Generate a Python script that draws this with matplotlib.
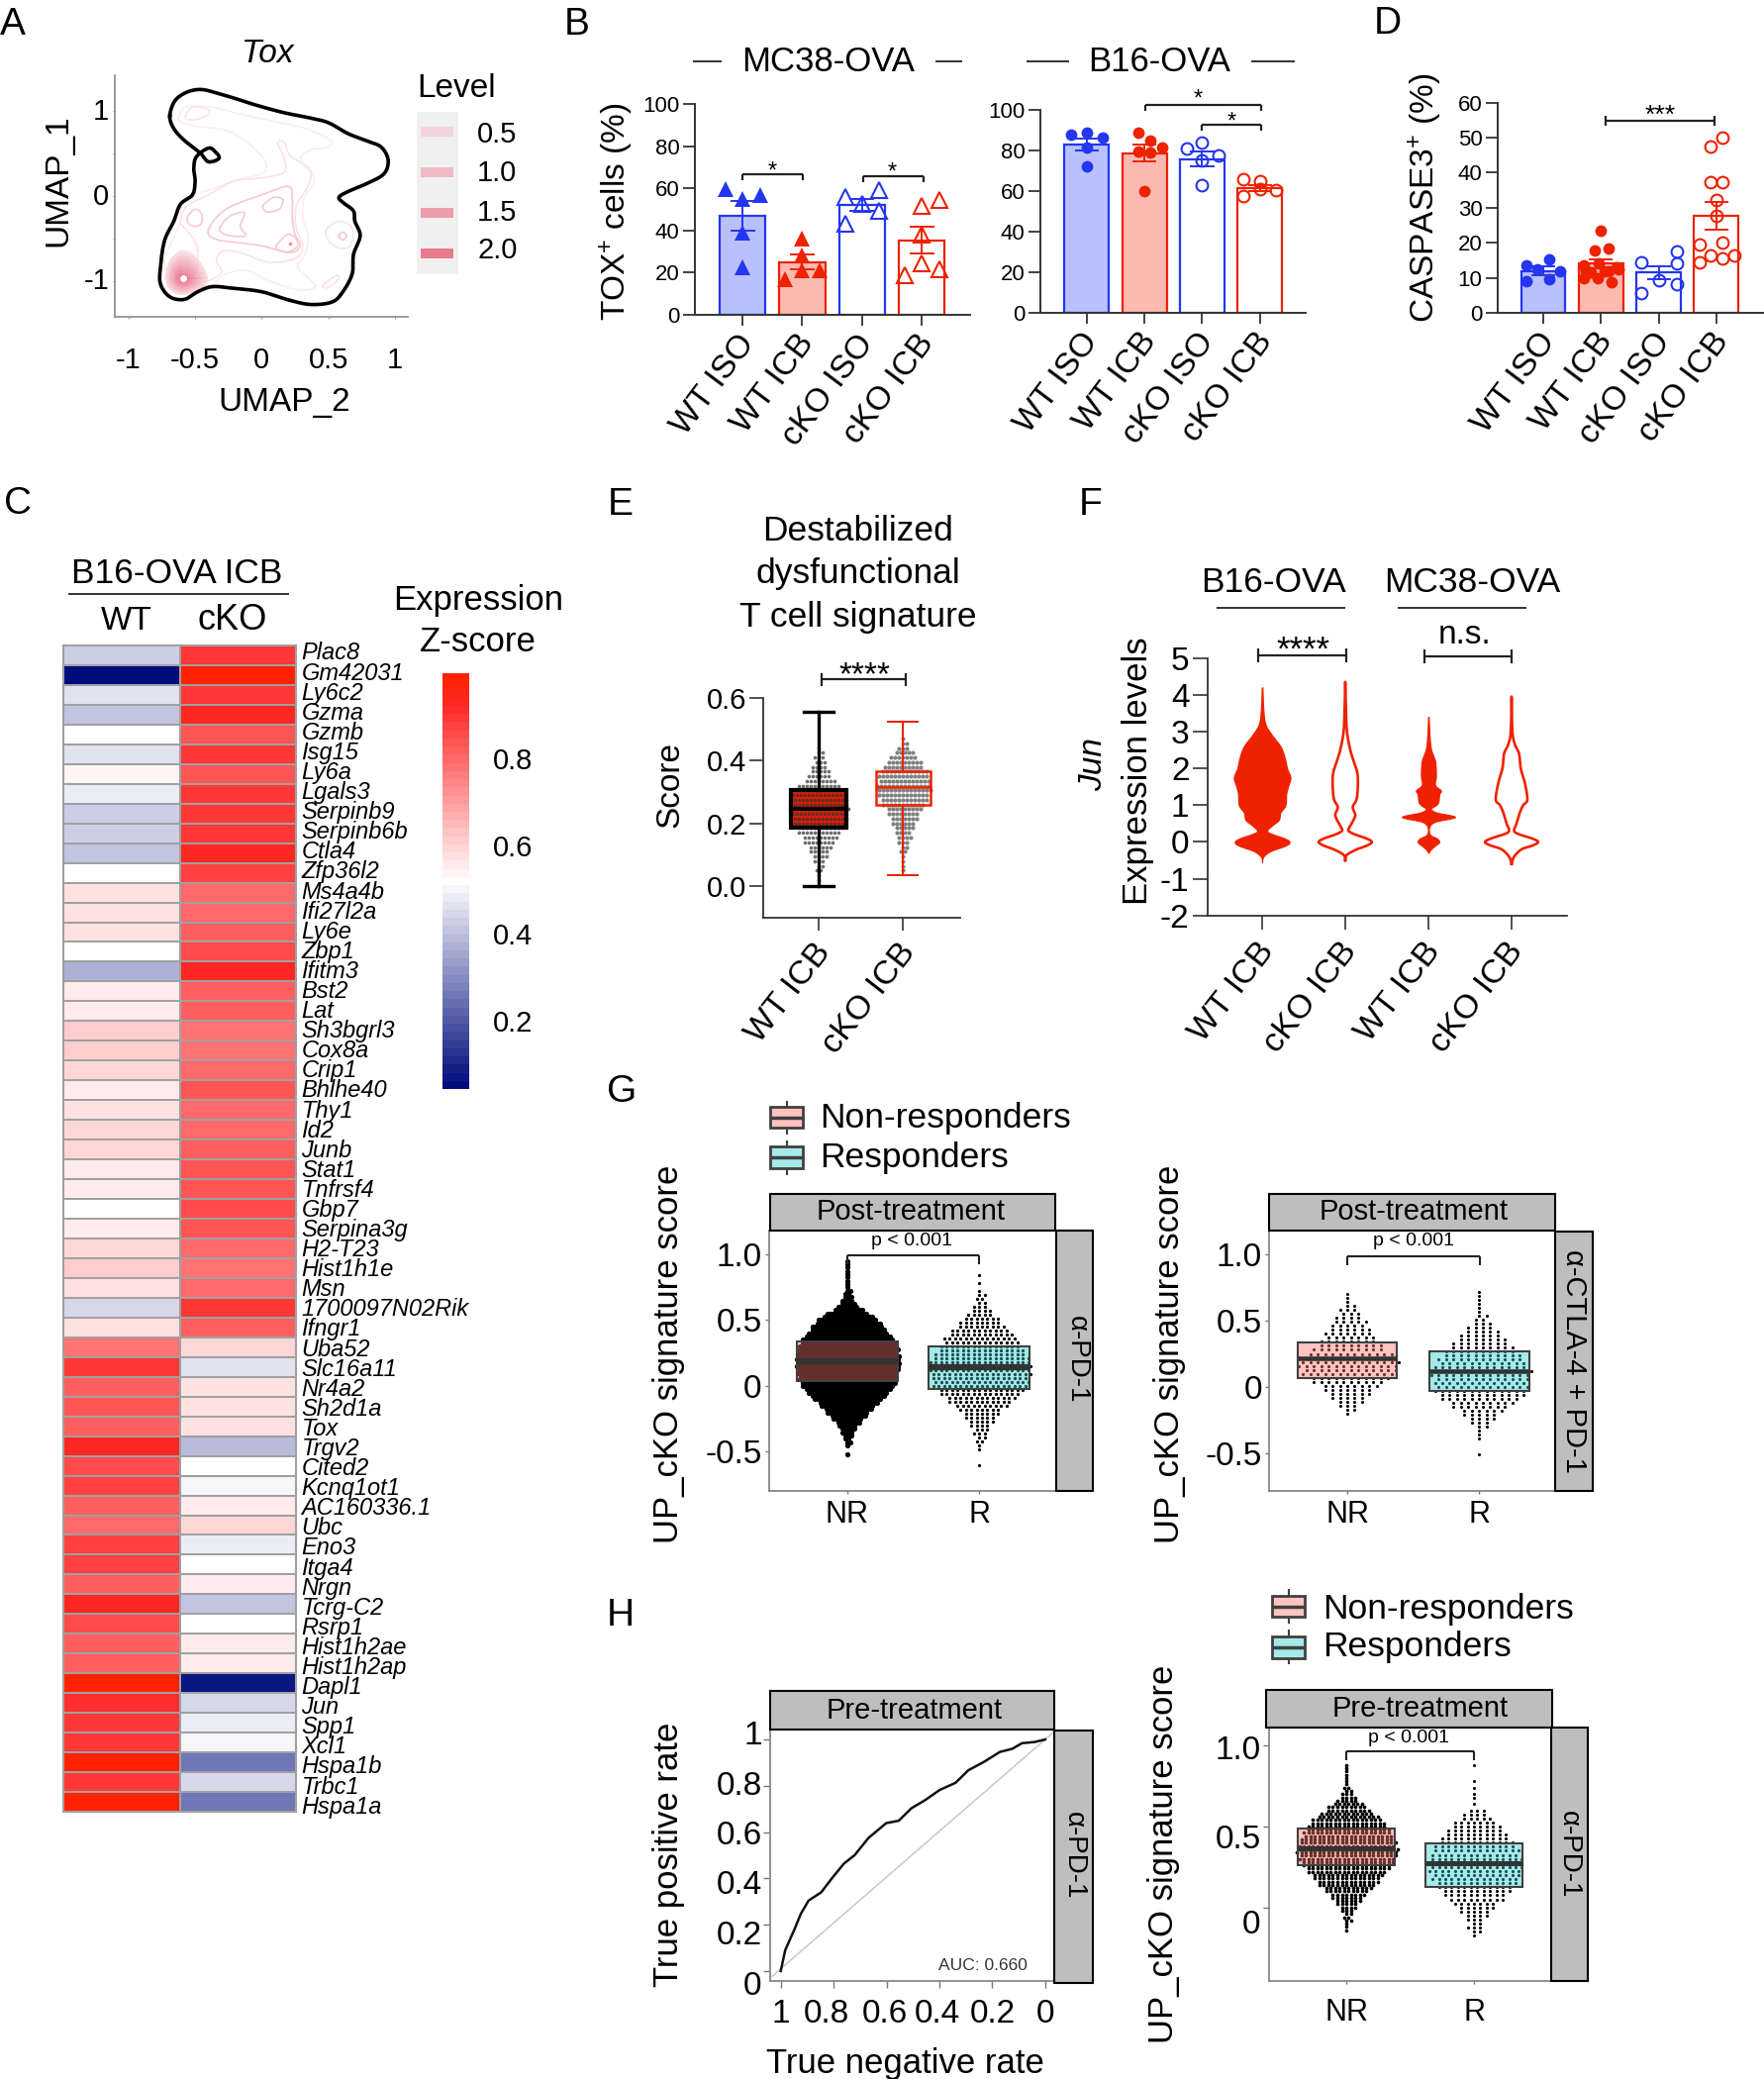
import numpy as np
import matplotlib
matplotlib.use('Agg')
import matplotlib.pyplot as plt
from matplotlib.colors import LinearSegmentedColormap, Normalize
from matplotlib.cm import ScalarMappable
from matplotlib.patches import Rectangle
from matplotlib.lines import Line2D
from matplotlib.transforms import Affine2D, ScaledTranslation

plt.rcParams['font.family'] = ['Liberation Sans', 'DejaVu Sans']
plt.rcParams['mathtext.fontset'] = 'custom'
plt.rcParams['mathtext.rm'] = 'Liberation Sans'
plt.rcParams['mathtext.default'] = 'regular'

# ---------- DATA ----------
# A: density contours of Tox on UMAP
umap_ticks = [-1, -0.5, 0, 0.5, 1]
tox_outer = [(-.69,.94),(-.65,1.12),(-.56,1.22),(-.45,1.25),(-.32,1.20),(-.21,1.15),(-.05,1.07),(.16,.98),(.35,.92),(.50,.86),(.65,.73),(.80,.64),(.90,.57),(.95,.42),(.92,.26),(.80,.15),(.65,.05),(.58,-.02),(.62,-.09),(.69,-.18),(.70,-.30),(.74,-.47),(.69,-.69),(.68,-.92),(.61,-1.13),(.53,-1.25),(.37,-1.28),(.21,-1.23),(0,-1.13),(-.21,-1.09),(-.37,-1.07),(-.48,-1.13),(-.58,-1.22),(-.69,-1.19),(-.76,-1.04),(-.76,-.84),(-.73,-.53),(-.66,-.30),(-.61,-.10),(-.52,.01),(-.50,.17),(-.51,.32),(-.49,.46),(-.40,.56),(-.35,.52),(-.32,.44),(-.40,.40),(-.46,.50),(-.58,.65),(-.66,.79)]
tox_faint = [(-.62,.94),(-.56,1.05),(-.37,1.04),(-.16,.96),(.11,.87),(.35,.78),(.52,.65),(.49,.57),(.37,.54),(.29,.44),(.37,.30),(.39,.15),(.32,-.03),(.31,-.26),(.35,-.49),(.32,-.71),(.27,-.84),(.37,-1.0),(.40,-1.08),(.27,-1.11),(.05,-1.0),(-.11,-.88),(-.27,-.92),(-.37,-1.04),(-.50,-1.04),(-.69,-.96),(-.73,-.76),(-.66,-.49),(-.61,-.30),(-.60,-.14),(-.49,.01),(-.35,.09),(-.19,.19),(0,.26),(.03,.40),(-.11,.63),(-.27,.77),(-.45,.81),(-.61,.87)]
tox_mid = [(.12,.62),(.17,.63),(.21,.48),(.30,.38),(.37,.26),(.34,.09),(.26,-.12),(.26,-.38),(.31,-.59),(.25,-.74),(.05,-.78),(-.16,-.67),(-.29,-.65),(-.34,-.76),(-.30,-.90),(-.40,-1.0),(-.53,-1.04),(-.48,-.80),(-.49,-.57),(-.56,-.41),(-.61,-.30),(-.56,-.12),(-.40,.01),(-.21,.17),(0,.21),(.17,.28),(.16,.48)]
tox_light = [[(-.57,.94),(-.52,1.04),(-.41,1.02),(-.40,.96),(-.48,.90),(-.56,.90)],
             [(.48,-.43),(.56,-.31),(.66,-.34),(.69,-.47),(.65,-.61),(.54,-.59)],
             [(.46,-1.06),(.56,-.94),(.58,-.98),(.50,-1.08)]]
tox_strong = [[(-.40,-.40),(-.27,-.16),(0,.01),(.20,.11),(.23,-.03),(.23,-.26),(.25,-.45),(.29,-.59),(.21,-.67),(0,-.59),(-.19,-.55),(-.35,-.51)],
              [(.01,-.12),(.09,-.02),(.16,-.05),(.13,-.16),(.04,-.19)],
              [(-.31,-.36),(-.24,-.24),(-.13,-.20),(-.16,-.36),(-.12,-.47),(-.24,-.47),(-.31,-.42)],
              [(.11,-.59),(.19,-.46),(.25,-.49),(.27,-.59),(.20,-.66),(.13,-.64)],
              [(-.56,-.26),(-.50,-.16),(-.45,-.22),(-.46,-.34),(-.53,-.35)],
              [(.58,-.47),(.61,-.43),(.64,-.47),(.61,-.52)]]
tox_hot_center = (-.59, -.97)
tox_hot_shape = [(.18,.0),(.11,.22),(0,.32),(-.10,.20),(-.13,0),(-.09,-.14),(0,-.19),(.12,-.13)]
tox_hot_scales = [1,.93,.86,.79,.72,.65,.58,.51,.44,.37,.30,.23,.16,.10]
level_values = ['0.5', '1.0', '1.5', '2.0']
level_colors = ['#f5d3da', '#f0bac4', '#eb9dac', '#e87b8c']

# B / D
groups = ['WT ISO', 'WT ICB', 'cKO ISO', 'cKO ICB']
b1_vals = [47, 25, 52, 35]
b1_hi = [54, 28.5, 55, 42]
b1_lo = [40, 21.5, 49.5, 29]
b1_off = [[-.28,0,.29,0,0],[0,0,-.29,0,.29],[-.28,.28,0,.28,-.28],[.29,0,0,0,.29,-.28]]
b1_pts = [[59.6,55,57,39,22.5],[36,28,17,21,21],[56,59,52.5,49.5,43],[54.6,51.5,38,24.5,21.5,18.6]]
b2_vals = [83, 78.5, 75.6, 61.5]
b2_hi = [86, 83, 79.7, 62.8]
b2_lo = [79.8, 74.8, 72, 60]
b2_off = [[-.27,0,.28,0,0],[-.10,.10,.30,-.10,.10,0],[0,-.26,.28,0,0],[-.28,0,-.28,.28,0]]
b2_pts = [[87.8,88.6,86.3,81.3,72],[89,85,81.5,79.7,79,60],[84,81,77.7,75.3,62.8],[65.9,65,57.4,60.3,61]]
d_vals = [12, 14, 11.5, 27.7]
d_hi = [13.2, 15.3, 13.4, 31.6]
d_lo = [10.8, 12.7, 9.6, 23.8]
d_off = [[-.30,.10,-.10,.30,-.30,.10],[0,.13,-.11,-.3,-.04,.3,.13,-.3,-.05,.19,-.18,.07,-.27,.27],[.31,-.30,.31,0,.31,-.30],[.11,-.10,-.10,.11,0,0,-.29,.11,-.10,.31,.11,-.29]]
d_pts = [[13.7,15.3,12.3,11.9,9,9.5],[23.4,18.5,17.7,13.7,14.2,12.5,12,10,10,8.8,11.6,12,12,13],[17.5,14.4,14.1,9.2,8.1,5.6],[50,47.5,37.3,37.3,32.3,27.6,19.6,20,16.3,16.3,15.5,14.4]]

# C
genes = ['Plac8','Gm42031','Ly6c2','Gzma','Gzmb','Isg15','Ly6a','Lgals3','Serpinb9','Serpinb6b','Ctla4','Zfp36l2','Ms4a4b','Ifi27l2a','Ly6e','Zbp1','Ifitm3','Bst2','Lat','Sh3bgrl3','Cox8a','Crip1','Bhlhe40','Thy1','Id2','Junb','Stat1','Tnfrsf4','Gbp7','Serpina3g','H2-T23','Hist1h1e','Msn','1700097N02Rik','Ifngr1','Uba52','Slc16a11','Nr4a2','Sh2d1a','Tox','Trgv2','Cited2','Kcnq1ot1','AC160336.1','Ubc','Eno3','Itga4','Nrgn','Tcrg-C2','Rsrp1','Hist1h2ae','Hist1h2ap','Dapl1','Jun','Spp1','Xcl1','Hspa1b','Trbc1','Hspa1a']
heat_wt = [.425,.05,.46,.415,.52,.46,.54,.48,.435,.435,.415,.52,.58,.58,.58,.52,.375,.55,.55,.615,.61,.60,.55,.58,.60,.60,.55,.55,.52,.56,.60,.615,.58,.44,.575,.78,.89,.82,.84,.81,.925,.85,.865,.82,.80,.88,.875,.815,.93,.86,.82,.82,.99,.905,.90,.89,.985,.90,.98]
heat_cko = [.90,.99,.90,.92,.84,.90,.84,.885,.90,.90,.93,.87,.795,.795,.82,.85,.93,.81,.82,.78,.78,.79,.83,.80,.79,.81,.84,.84,.86,.84,.795,.78,.79,.89,.81,.60,.46,.58,.575,.58,.39,.52,.505,.55,.60,.48,.52,.55,.415,.52,.55,.55,.07,.44,.48,.505,.25,.44,.26]

# E: swarm rows (start, step, dots per row) and box statistics
e_wt_start, e_wt_step = .02, .015
e_wt_counts = [1,1,2,2,3,4,5,6,8,9,11,12,13,14,14,15,15,14,14,13,11,8,6,5,4,3,3,2,1]
e_ko_start, e_ko_step = .05, .015
e_ko_counts = [1,1,1,1,2,2,3,4,4,5,6,7,8,9,11,12,13,14,14,13,13,12,10,9,7,5,3,2,1]
e_box = [(0, .185, .245, .305, .555), (.035, .26, .315, .365, .525)]
e_labels = ['WT ICB', 'cKO ICB']

# F: violin outlines (level, half width)
f_labels = ['WT ICB', 'cKO ICB', 'WT ICB', 'cKO ICB']
f_v1 = [(-.55,0),(-.4,.015),(-.25,.1),(-.1,.28),(0,.33),(.1,.27),(.2,.14),(.3,.06),(.45,.12),(.6,.2),(.8,.22),(1.0,.28),(1.3,.29),(1.5,.31),(1.75,.34),(2.0,.3),(2.3,.27),(2.6,.22),(2.9,.12),(3.2,.04),(3.6,.015),(4.2,.004)]
f_v2 = [(-.5,0),(-.35,.02),(-.2,.14),(-.1,.26),(0,.32),(.1,.25),(.2,.12),(.3,.04),(.4,.05),(.6,.1),(.75,.12),(.95,.09),(1.2,.14),(1.8,.15),(2.2,.1),(2.5,.06),(3,.02),(3.6,.008),(4.35,0)]
f_v3 = [(-.3,0),(-.2,.03),(-.1,.08),(0,.13),(.1,.1),(.2,.02),(.4,.01),(.55,.08),(.68,.32),(.8,.1),(.9,.03),(1.0,.09),(1.1,.12),(1.3,.13),(1.4,.15),(1.55,.08),(1.8,.09),(2.2,.08),(2.6,.025),(3.4,.003)]
f_v4 = [(-.6,0),(-.4,.03),(-.2,.12),(-.1,.25),(0,.32),(.1,.24),(.2,.1),(.3,.03),(.5,.06),(.8,.1),(1.0,.14),(1.15,.19),(1.6,.16),(2,.11),(2.4,.09),(2.65,.04),(3,.01),(3.95,0)]

# G / H swarm rows and boxes
g1_nr = dict(start=-.45, step=.025, out=[-.52], counts=[1,2,2,3,4,5,6,8,10,12,14,16,18,20,23,25,27,29,31,32,33,33,34,34,35,35,35,35,34,34,33,32,31,29,27,25,24,22,20,17,14,10,7,5,4,3,2,2,1,1,1,1,1,1,1,1,1], box=(.04,.19,.34))
g1_r = dict(start=-.48, step=.03, out=[.78,.84,-.6], counts=[1,1,2,2,3,3,4,5,6,7,8,10,12,13,15,16,18,18,18,19,19,19,19,18,17,16,15,14,14,12,11,9,8,7,5,4,3,2,2,2,1], box=(-.02,.14,.30))
g2_nr = dict(start=-.2, step=.03, out=[], counts=[1,2,3,4,5,6,7,8,10,11,13,13,14,14,13,12,10,9,8,7,7,6,5,5,4,3,3,2,1,1,1], box=(.067,.22,.336))
g2_r = dict(start=-.39, step=.03, out=[-.51], counts=[1,1,1,2,3,4,5,6,8,9,11,12,13,13,13,13,14,14,13,12,12,11,10,9,8,7,6,5,4,3,2,2,1,1,1,1,1,1], box=(-.03,.12,.266))
h_nr = dict(start=-.14, step=.02, out=[], counts=[1,1,1,2,2,2,3,4,5,6,7,8,10,11,13,14,15,16,18,19,20,21,22,22,23,23,22,22,21,20,20,19,18,17,16,14,12,10,9,7,5,4,3,2,2,1,1,1,1,1,1,1], box=(.26,.363,.486))
h_r = dict(start=-.175, step=.025, out=[.64,.68,.70,.74,.78,.88], counts=[1,2,3,2,3,4,5,6,7,9,10,11,12,13,14,14,15,15,15,15,14,14,13,12,11,10,9,8,7,5,4,3], box=(.129,.276,.394))
resp_labels = ['NR', 'R']
roc_tnr = [1.0,.983,.947,.924,.895,.847,.804,.761,.721,.668,.601,.554,.506,.453,.399,.339,.291,.232,.172,.124,.088,.041,0]
roc_tpr = [0,.09,.183,.247,.304,.34,.404,.464,.5,.575,.639,.649,.703,.739,.782,.813,.867,.903,.946,.96,.984,.989,1]
roc_ticks = [1, .8, .6, .4, .2, 0]
roc_ticklabels = ['1', '0.8', '0.6', '0.4', '0.2', '0']

# ---------- HELPERS ----------
W, H = 1782, 2100
fig = plt.figure(figsize=(W/100, H/100), dpi=100, facecolor='white')
PX = Affine2D().scale(1, -1).translate(0, H)

def axpx(l, t, r, b):
    return fig.add_axes([l/W, 1-b/H, (r-l)/W, (b-t)/H])

def txt(x, y, s, size=24, ha='center', va='center', **kw):
    return fig.text(x, y, s, transform=PX, fontsize=size, ha=ha, va=va, **kw)

def pline(xs, ys, color='#222222', lw=1.5, zorder=2):
    fig.add_artist(Line2D(xs, ys, transform=PX, color=color, lw=lw, solid_capstyle='butt', zorder=zorder))

def prect(x0, y0, x1, y1, fc, ec='black', lw=1.5, zorder=1):
    fig.add_artist(Rectangle((x0, y0), x1-x0, y1-y0, transform=PX, fc=fc, ec=ec, lw=lw, zorder=zorder))

def bracket(x0, x1, y, up=5, down=6, lw=1.6):
    pline([x0, x1], [y, y], lw=lw)
    for x in (x0, x1):
        pline([x, x], [y-up, y+down], lw=lw)

def stars(cx, cy, s, size):
    txt(cx, cy + 0.58*size*100/72, s, size=size, va='baseline')

def smooth(pts, closed=False, n=14):
    p = np.array(pts, float)
    if closed:
        p = np.vstack([p[-1], p, p[0], p[1]])
    else:
        p = np.vstack([p[0], p, p[-1]])
    out = []
    t = np.linspace(0, 1, n, endpoint=False)[:, None]
    for i in range(1, len(p)-2):
        a, b, c, d = p[i-1], p[i], p[i+1], p[i+2]
        out.append(.5*((2*b)+(-a+c)*t+(2*a-5*b+4*c-d)*t**2+(-a+3*b-3*c+d)*t**3))
    out = np.vstack(out)
    if closed:
        out = np.vstack([out, out[0]])
    else:
        out = np.vstack([out, p[-2]])
    return out

def rot_labels(ax, pos, labels, size, rot=53, pad=9, dx=6, dy=0):
    ax.set_xticks(pos)
    ax.set_xticklabels(labels, rotation=rot, ha='right', va='center', rotation_mode='anchor', fontsize=size)
    ax.tick_params(axis='x', pad=pad)
    off = ScaledTranslation(dx/100, dy/100, fig.dpi_scale_trans)
    for lab in ax.get_xticklabels():
        lab.set_transform(lab.get_transform() + off)

def shift_yticklabels(ax, shifts):
    for lab, s in zip(ax.get_yticklabels(), shifts):
        lab.set_transform(lab.get_transform() + ScaledTranslation(0, -s/100, fig.dpi_scale_trans))

BLUE, RED = '#2436f0', '#ee2200'
LBLUE, LRED = '#b9c0fb', '#fbb9b0'

def bars(ax, vals, hi, lo, off, pts, marker, ms, xlim, ylim, yticks, tsize=16):
    edge = [BLUE, RED, BLUE, RED]
    face = [LBLUE, LRED, 'white', 'white']
    x = np.arange(4)
    ax.bar(x, vals, width=.77, color=face, edgecolor=edge, linewidth=1.6, zorder=1)
    for i in range(4):
        filled = i < 2
        ax.plot(np.array(off[i])+i, pts[i], ls='none', marker=marker, ms=ms,
                mfc=edge[i] if filled else 'none', mec=edge[i], mew=1.5 if not filled else 0, zorder=2, clip_on=False)
        ax.plot([i, i], [lo[i], hi[i]], color=edge[i], lw=1.4, zorder=3)
        for v in (lo[i], hi[i]):
            ax.plot([i-.19, i+.19], [v, v], color=edge[i], lw=1.4, zorder=3)
    ax.set_xlim(*xlim)
    ax.set_ylim(*ylim)
    ax.set_yticks(yticks)
    ax.tick_params(axis='y', labelsize=tsize, length=9, width=1.3, pad=2, color='#333333')
    ax.tick_params(axis='x', length=8, width=1.3, color='#333333')
    for s in ('top', 'right'):
        ax.spines[s].set_visible(False)
    for s in ('left', 'bottom'):
        ax.spines[s].set_linewidth(1.4)
        ax.spines[s].set_color('#333333')

def swarm(ax, x0, d, dx, size, color='black', alpha=1, zorder=2):
    xs, ys = [], []
    for i, c in enumerate(d['counts']):
        y = d['start'] + d['step']*i
        shift = dx/2 * (i % 2) if c > 1 else 0
        xs.extend(x0 + (np.arange(c)-(c-1)/2)*dx + shift)
        ys.extend([y]*c)
    for v in d['out']:
        xs.append(x0)
        ys.append(v)
    ax.scatter(xs, ys, s=size, c=color, alpha=alpha, linewidths=0, zorder=zorder)

def resp_panel(l, t, r, b, centers_xlim, ylim, yticks, ylabels, d1, d2, dxs, sizes, w, medlw, stripl, stript, stripr, strip_txt,
               strip_cx, strip_cy, side_l, side_r, side_t, side_b, side_txt, side_cx, side_cy, side_size, shifts=None, ticklen=3, xpad=6):
    ax = axpx(l, t, r, b)
    ax.set_xlim(*centers_xlim)
    ax.set_ylim(*ylim)
    for i, (d, base, over) in enumerate([(d1, '#fff7f6', '#ff786e'), (d2, '#ebffff', '#3cc8c8')]):
        q1, med, q3 = d['box']
        ax.add_patch(Rectangle((i-w/2, q1), w, q3-q1, fc=base, ec='none', zorder=1))
        swarm(ax, i, d, dxs[i], sizes[i], zorder=2)
        ax.add_patch(Rectangle((i-w/2, q1), w, q3-q1, fc=over, ec='none', alpha=.4, zorder=3))
        ax.add_patch(Rectangle((i-w/2, q1), w, q3-q1, fc='none', ec='#404040', lw=1.5, zorder=4))
        ax.plot([i-w/2, i+w/2], [med, med], color='#333333', lw=medlw, zorder=5, solid_capstyle='butt')
    ax.set_xticks([0, 1])
    ax.set_xticklabels(resp_labels, fontsize=22)
    ax.set_yticks(yticks)
    ax.set_yticklabels(ylabels, fontsize=24)
    ax.tick_params(axis='x', length=2.5, width=1, pad=xpad, color='#777777')
    ax.tick_params(axis='y', length=ticklen, width=1, pad=2, color='#777777')
    for s in ax.spines.values():
        s.set_color('#888888')
        s.set_linewidth(1.3)
    if shifts:
        shift_yticklabels(ax, shifts)
    prect(stripl, stript, stripr, t, '#bebebe')
    txt(strip_cx, strip_cy, strip_txt, size=21)
    prect(side_l, side_t, side_r, side_b, '#bebebe')
    txt(side_cx, side_cy, side_txt, size=side_size, rotation=-90)
    return ax

# ---------- PANEL LETTERS ----------
for s, x, y in [('A', 0, 35), ('B', 570, 35), ('D', 1388, 34), ('C', 4, 519), ('E', 614, 520),
                ('F', 1090, 520), ('G', 613, 1113), ('H', 613, 1642)]:
    txt(x, y, s, size=28, ha='left', va='baseline')

# ---------- A ----------
ax = axpx(116.4, 76, 412, 320)
ax.set_xlim(-1.10, 1.098)
ax.set_ylim(-1.425, 1.418)
for s in ('top', 'right'):
    ax.spines[s].set_visible(False)
for s in ('left', 'bottom'):
    ax.spines[s].set_color('#8a8a8a')
    ax.spines[s].set_linewidth(1.2)
ax.set_xticks(umap_ticks)
ax.set_xticklabels(['-1', '-0.5', '0', '0.5', '1'], fontsize=21)
ax.set_yticks(umap_ticks)
ax.set_yticklabels(['-1', '', '0', '', '1'], fontsize=21)
ax.tick_params(axis='x', length=1.5, width=.8, pad=20, color='#999999')
ax.tick_params(axis='y', length=1.5, width=.8, pad=3, color='#999999')
shift_yticklabels(ax, [-3, 0, -2, 0, -2])
c = smooth(tox_faint, closed=True)
ax.plot(c[:, 0], c[:, 1], color='#fcecef', lw=1.1)
c = smooth(tox_mid, closed=True)
ax.plot(c[:, 0], c[:, 1], color='#fbe0e5', lw=1.1)
for p in tox_light:
    c = smooth(p, closed=True)
    ax.plot(c[:, 0], c[:, 1], color='#fbe2e6', lw=1.1)
for p in tox_strong:
    c = smooth(p, closed=True)
    ax.plot(c[:, 0], c[:, 1], color='#f6ccd4', lw=1.3)
hot_cmap = LinearSegmentedColormap.from_list('h', ['#f9dbe0', '#f0a2b2', '#e96a84'])
shape = smooth(tox_hot_shape, closed=True)
for i, f in enumerate(tox_hot_scales):
    col = hot_cmap(i/(len(tox_hot_scales)-1))
    ax.plot(tox_hot_center[0]+f*shape[:, 0], tox_hot_center[1]+f*shape[:, 1], color=col, lw=1.1)
ax.plot([tox_hot_center[0]], [tox_hot_center[1]], marker='o', ms=4, color='white', zorder=4)
ax.plot([.21], [-.56], marker='o', ms=1.6, color='#ee8fa0', zorder=4)
c = smooth(tox_outer, closed=True)
ax.plot(c[:, 0], c[:, 1], color='black', lw=2.6, zorder=5)
ax.set_xlabel('UMAP_2', fontsize=24, va='center')
ax.xaxis.set_label_coords(287, 407, transform=PX)
ax.set_ylabel('UMAP_1', fontsize=24, va='center')
ax.yaxis.set_label_coords(59, 182, transform=PX)
txt(270, 63, 'Tox', size=24, style='italic', va='baseline')
txt(421, 98, 'Level', size=24, ha='left', va='baseline')
prect(421, 112.7, 462.5, 276.7, '#f0f0f0', ec='none', lw=0)
for lv, col, yc, yt in zip(level_values, level_colors, [133, 174, 215, 256], [136, 175, 215, 253]):
    prect(425, yc-5, 458, yc+5, col, ec='none', lw=0, zorder=1.5)
    txt(482, yt, lv, size=21, ha='left')

# ---------- B ----------
ax = axpx(702, 105, 980, 318)
bars(ax, b1_vals, b1_hi, b1_lo, b1_off, b1_pts, '^', 11, (-.796, 3.81), (0, 100), [0, 20, 40, 60, 80, 100])
rot_labels(ax, range(4), groups, 24)
ax.set_ylabel('TOX$^{+}$ cells (%)', fontsize=24, va='center')
ax.yaxis.set_label_coords(623, 214, transform=PX)
bracket(750, 811, 176, up=0, down=6)
stars(780, 166, '*', 17)
bracket(872, 933, 178, up=0, down=6)
stars(901, 167, '*', 17)

ax = axpx(1051, 111, 1319, 316)
bars(ax, b2_vals, b2_hi, b2_lo, b2_off, b2_pts, 'o', 8.5, (-.798, 3.79), (0, 100), [0, 20, 40, 60, 80, 100])
rot_labels(ax, range(4), groups, 24)
bracket(1157, 1274, 105.5, up=0, down=6)
stars(1210, 93, '*', 17)
bracket(1214, 1274, 125.5, up=0, down=6)
stars(1244, 116, '*', 17)

for s, cx, cy, segs in [('MC38-OVA', 837, 62, [(700, 729), (945, 972)]), ('B16-OVA', 1171, 62, [(1037, 1080), (1264, 1308)])]:
    txt(cx, cy, s, size=25)
    for a, b in segs:
        pline([a, b], [62, 62], lw=1.3)

# ---------- D ----------
ax = axpx(1512.7, 103.7, 1781.7, 316)
bars(ax, d_vals, d_hi, d_lo, d_off, d_pts, 'o', 8.5, (-.794, 3.82), (0, 60), [0, 10, 20, 30, 40, 50, 60])
rot_labels(ax, range(4), groups, 24)
ax.set_ylabel('CASPASE3$^{+}$ (%)', fontsize=24, va='center')
ax.yaxis.set_label_coords(1440, 200, transform=PX)
bracket(1622, 1732, 122, up=5, down=5)
stars(1677, 109, '***', 19)

# ---------- C ----------
ax = axpx(64, 652, 299, 1830)
vmin, vmax = .044, .994
heat_cmap = LinearSegmentedColormap.from_list('z', [(0, '#000c7c'), (.5, '#ffffff'), (.93, '#ff2828'), (1, '#ff2200')], N=51)
norm = Normalize(vmin, vmax)
arr = np.column_stack([heat_wt, heat_cko])
ax.pcolormesh(arr, cmap=heat_cmap, norm=norm, edgecolors='#a0a0a0', linewidth=1.2)
ax.set_ylim(len(genes), 0)
ax.set_xticks([])
ax.set_yticks(np.arange(len(genes))+.5)
ax.set_yticklabels(genes, fontsize=17, style='italic')
ax.yaxis.tick_right()
ax.tick_params(axis='y', length=0, pad=4)
n_genes = len(genes)
for i, lab in enumerate(ax.get_yticklabels()):
    up = 4.5 - 7.1*i/(n_genes-1)
    lab.set_transform(lab.get_transform()+ScaledTranslation(0, up/100, fig.dpi_scale_trans))
for s in ax.spines.values():
    s.set_color('#a0a0a0')
    s.set_linewidth(1.5)
txt(179, 589, 'B16-OVA ICB', size=25.5, va='baseline')
pline([69, 292], [600, 600], lw=1.3)
txt(127.5, 636, 'WT', size=24, va='baseline')
txt(235, 636, 'cKO', size=26, va='baseline')
txt(483, 616, 'Expression', size=25, va='baseline')
txt(483, 658, 'Z-score', size=25, va='baseline')
cax = axpx(447, 680, 474, 1100)
cb = fig.colorbar(ScalarMappable(norm=norm, cmap=heat_cmap), cax=cax)
cb.set_ticks([.2, .4, .6, .8])
cb.ax.tick_params(labelsize=21, length=0, pad=17)
cb.outline.set_visible(False)

# ---------- E ----------
ax = axpx(771, 704.7, 969.5, 927)
ax.set_xlim((771-827)/85.4, (969.5-827)/85.4)
ax.set_ylim(-.1, .6)
ax.add_patch(Rectangle((-.325, e_box[0][1]), .65, e_box[0][3]-e_box[0][1], fc='#e81c00', ec='none', zorder=1))
swarm(ax, 0, dict(start=e_wt_start, step=e_wt_step, counts=e_wt_counts, out=[]), .047, 7, color='#333333', alpha=.7)
swarm(ax, 1, dict(start=e_ko_start, step=e_ko_step, counts=e_ko_counts, out=[]), .047, 9, color='#4a4a4a', alpha=.7)
for i, (col, lw) in enumerate([('black', 3), (RED, 1.8)]):
    lo, q1, med, q3, hi = e_box[i]
    ax.plot([i, i], [lo, q1], color=col, lw=lw*.8, zorder=4, clip_on=False)
    ax.plot([i, i], [q3, hi], color=col, lw=lw*.8, zorder=4, clip_on=False)
    for v in (lo, hi):
        ax.plot([i-.175, i+.175], [v, v], color=col, lw=lw*.8, zorder=4)
    ax.add_patch(Rectangle((i-.325, q1), .65, q3-q1, fc='none', ec=col, lw=lw, zorder=5))
    ax.plot([i-.325, i+.325], [med, med], color=col, lw=lw, zorder=5)
for s in ('top', 'right'):
    ax.spines[s].set_visible(False)
for s in ('left', 'bottom'):
    ax.spines[s].set_linewidth(1.3)
    ax.spines[s].set_color('#333333')
ax.set_yticks([0, .2, .4, .6])
ax.set_yticklabels(['0.0', '0.2', '0.4', '0.6'], fontsize=21)
ax.tick_params(axis='y', length=10, width=1.2, pad=2, color='#333333')
ax.tick_params(axis='x', length=9, width=1.2, color='#333333')
rot_labels(ax, [0, 1], e_labels, 24.5, pad=12, rot=52)
ax.set_ylabel('Score', fontsize=24, va='center')
ax.yaxis.set_label_coords(677, 792, transform=PX)
for s, y in [('Destabilized', 537), ('dysfunctional', 580), ('T cell signature', 623)]:
    txt(867, y, s, size=25.5)
bracket(830, 915, 686, up=6, down=7)
stars(873, 672, '****', 24)

# ---------- F ----------
ax = axpx(1219.5, 664.6, 1583, 924.8)
ax.set_xlim((1219.5-1275)/84, (1583-1275)/84)
ax.set_ylim(-2, 5)
for i, v in enumerate([f_v1, f_v2, f_v3, f_v4]):
    c = smooth(v)
    yy, hw = c[:, 0], np.clip(c[:, 1], 0, None)
    if i % 2 == 0:
        ax.fill_betweenx(yy, i-hw, i+hw, color=RED, lw=.8)
    else:
        ax.plot(np.r_[i-hw, (i+hw)[::-1], i-hw[0]], np.r_[yy, yy[::-1], yy[0]], color=RED, lw=1.9)
for s in ('top', 'right'):
    ax.spines[s].set_visible(False)
for s in ('left', 'bottom'):
    ax.spines[s].set_linewidth(1.3)
    ax.spines[s].set_color('#333333')
ax.set_yticks([-2, -1, 0, 1, 2, 3, 4, 5])
ax.set_yticklabels(['-2', '-1', '0', '1', '2', '3', '4', '5'], fontsize=24)
ax.tick_params(axis='y', length=11, width=1.2, pad=2, color='#333333')
ax.tick_params(axis='x', length=10, width=1.2, color='#333333')
rot_labels(ax, range(4), f_labels, 24.5, pad=12, rot=52)
ax.set_ylabel('Expression levels', fontsize=25, va='center')
ax.yaxis.set_label_coords(1149, 779, transform=PX)
txt(1105, 772, 'Jun', size=24, style='italic', rotation=90)
txt(1286, 588, 'B16-OVA', size=25.5)
txt(1487, 588, 'MC38-OVA', size=25.5)
pline([1229, 1358.5], [614, 614], lw=1.3)
pline([1412, 1541.6], [614, 614], lw=1.3)
bracket(1271, 1360, 662, up=7, down=7)
stars(1316, 646, '****', 25)
bracket(1439, 1527, 663, up=7, down=7)
txt(1480, 642, 'n.s.', size=24)

# ---------- G ----------
def legend_g(xl, xr, xt, rows):
    for (bt, bb, wt, wb, yc, s, col) in rows:
        xm = (xl+xr)/2
        pline([xm, xm], [wt, wb], color='#404040', lw=1.5, zorder=2)
        prect(xl, bt, xr, bb, col, ec='#404040', lw=2, zorder=3)
        pline([xl, xr], [(bt+bb)/2, (bt+bb)/2], color='#404040', lw=2.5, zorder=4)
        txt(xt, yc, s, size=25.5, ha='left')

legend_g(778, 811, 828, [(1118, 1139, 1112, 1146, 1129, 'Non-responders', '#ffc4c0'),
                         (1158, 1180, 1152, 1187, 1169, 'Responders', '#a5eaea')])
resp_panel(776.5, 1243, 1066.7, 1506, (-.593, 1.58), (-.797, 1.18), [-.5, 0, .5, 1], ['-0.5', '0', '0.5', '1.0'],
           g1_nr, g1_r, (.0225, .041), (14, 5.5), .765, 4.5, 778, 1205.7, 1066, 'Post-treatment', 920.6, 1224,
           1067, 1104, 1243, 1506, '\u03b1-PD-1', 1088, 1373, 20, xpad=4)
resp_panel(1282, 1243, 1571, 1506, ((1282-1361)/133.3, (1571-1361)/133.3), ((1401-1506)/134, (1401-1243)/134), [-.5, 0, .5, 1], ['-0.5', '0', '0.5', '1.0'],
           g2_nr, g2_r, (.056, .056), (5, 5), .757, 3.3, 1282, 1205.7, 1571, 'Post-treatment', 1428, 1224,
           1571, 1609, 1244, 1506, '\u03b1-CTLA-4 + PD-1', 1590, 1375, 21, xpad=4)
txt(675, 1367.5, 'UP_cKO signature score', size=25, rotation=90)
txt(1181, 1367.5, 'UP_cKO signature score', size=25, rotation=90)
bracket(855.6, 989, 1267.7, up=0, down=9, lw=1.5)
txt(920.6, 1253, 'p < 0.001', size=14)
bracket(1361, 1494.6, 1269, up=0, down=9, lw=1.5)
txt(1427.6, 1253, 'p < 0.001', size=14)

# ---------- H ----------
legend_g(1285, 1318, 1336.5, [(1612, 1633, 1605, 1640, 1625, 'Non-responders', '#ffc4c0'),
                              (1653, 1675, 1646, 1681, 1663, 'Responders', '#a5eaea')])
ax = axpx(778, 1747, 1065, 2001)
ax.set_xlim(1.04, -.034)
ax.set_ylim(-.043, 1.043)
ax.plot([1.04, -.03], [-.03, 1.03], color='#c8c8c8', lw=1.1)
ax.plot(roc_tnr, roc_tpr, color='#111111', lw=1.8)
ax.set_xticks(roc_ticks)
ax.set_xticklabels(roc_ticklabels, fontsize=24)
ax.set_yticks(roc_ticks)
ax.set_yticklabels(roc_ticklabels, fontsize=24)
ax.tick_params(axis='both', length=5, width=1, color='#777777')
ax.tick_params(axis='x', pad=8)
ax.tick_params(axis='y', pad=1)
shift_yticklabels(ax, [-7, -3, 0, 4, 8, 12])
for lab, s in zip(ax.get_xticklabels(), [0, -7.5, -2, -2, 0, 0]):
    lab.set_transform(lab.get_transform() + ScaledTranslation(s/100, 0, fig.dpi_scale_trans))
for s in ax.spines.values():
    s.set_color('#888888')
    s.set_linewidth(1.3)
ax.set_xlabel('True negative rate', fontsize=25)
ax.xaxis.set_label_coords(914, 2068, transform=PX)
ax.set_ylabel('True positive rate', fontsize=25, va='center')
ax.yaxis.set_label_coords(675, 1873, transform=PX)
txt(992.7, 1985.7, 'AUC: 0.660', size=12.5, color='#333333')
prect(778, 1708, 1065, 1747, '#bebebe')
txt(924, 1728, 'Pre-treatment', size=21)
prect(1065, 1748, 1104, 2003, '#bebebe')
txt(1084.5, 1874, '\u03b1-PD-1', size=20, rotation=-90)

resp_panel(1282, 1745, 1566.7, 2001, (-.605, 1.602), (-.454, 1.111), [0, .5, 1], ['0', '0.5', '1.0'],
           h_nr, h_r, (.035, .05), (7, 5), .757, 3.6, 1279, 1707, 1568, 'Pre-treatment', 1435, 1726,
           1567, 1604, 1745, 2001, '\u03b1-PD-1', 1585, 1873, 20, shifts=[14, 10, 2], ticklen=4, xpad=10)
txt(1176, 1873, 'UP_cKO signature score', size=25, rotation=90)
bracket(1360, 1489, 1769, up=0, down=9, lw=1.5)
txt(1423, 1755, 'p < 0.001', size=14)

fig.savefig('out.png', dpi=100)
